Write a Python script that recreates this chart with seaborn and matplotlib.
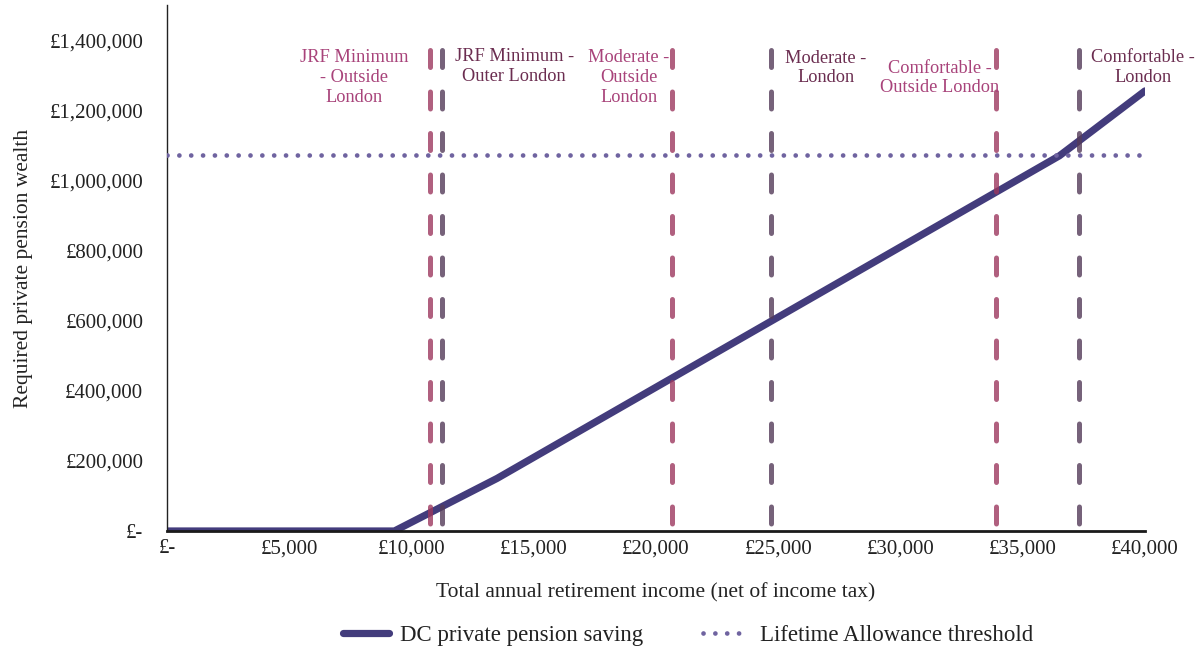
import matplotlib
matplotlib.use("Agg")
import matplotlib.pyplot as plt
import seaborn as sns
import pandas as pd
from matplotlib.lines import Line2D

# ---- data ----
income = [0, 9300, 13500, 36500, 40000]
wealth = [0, 0, 150000, 1070000, 1255000]
lta_threshold = 1073100

marker_labels = ["JRF Minimum\n- Outside\nLondon", "JRF Minimum -\nOuter London",
                 "Moderate -\nOutside\nLondon", "Moderate -\nLondon",
                 "Comfortable -\nOutside London", "Comfortable -\nLondon"]
marker_income = [10750, 11250, 20650, 24700, 33900, 37300]
marker_london = [False, True, False, True, False, True]

xticks = [0, 5000, 10000, 15000, 20000, 25000, 30000, 35000, 40000]
yticks = [0, 200000, 400000, 600000, 800000, 1000000, 1200000, 1400000]

sns.set_style("white")
plt.rcParams['font.family'] = ['Liberation Serif', 'DejaVu Serif']

fig = plt.figure(figsize=(11.96, 6.52), dpi=100)
ax = fig.add_axes([167/1196, (652-531)/652, (1145-167)/1196, 526/652])

PINK_LINE = "#9c385f"
DARK_LINE = "#543b59"
PINK_TXT = "#a8437a"
DARK_TXT = "#6b2d50"
MAIN = "#433c7c"
DOT = "#6f63a0"

df = pd.DataFrame({"income": income, "wealth": wealth})

sns.lineplot(data=df, x="income", y="wealth", ax=ax, color=MAIN, lw=5.2,
             solid_capstyle="round", zorder=2)

for xv, lon in zip(marker_income, marker_london):
    ax.plot([xv, xv], [1372000, -10000], color=DARK_LINE if lon else PINK_LINE,
            alpha=0.8, lw=3.6, linestyle=(0, (3.4, 4.9)), dash_capstyle="round",
            zorder=3)

ax.axhline(lta_threshold, color=DOT, lw=3.4, linestyle=(0, (0.01, 2.5)),
           dash_capstyle="round", zorder=4)

# annotation texts (center positions in data coords)
label_pos = [(7650, 1293000), (14200, 1325000), (18900, 1293000),
             (26950, 1320000), (31600, 1292000), (39900, 1322000)]
for (tx, ty), lab, lon in zip(label_pos, marker_labels, marker_london):
    ax.text(tx, ty, lab, ha="center", va="center", fontsize=13.2,
            color=DARK_TXT if lon else PINK_TXT, linespacing=1.2, zorder=5)

ax.set_xlim(0, 40000)
ax.set_ylim(0, 1500000)
ax.set_xticks(xticks)
ax.set_xticklabels(["£-" if v == 0 else f"£{v:,}" for v in xticks], fontsize=15)
ax.set_yticks(yticks)
ax.set_yticklabels(["£-" if v == 0 else f"£{v:,}" for v in yticks], fontsize=15)
ax.tick_params(axis="y", length=0, pad=17, colors="#222222")
ax.tick_params(axis="x", length=0, pad=6, colors="#222222")

for s in ["top", "right"]:
    ax.spines[s].set_visible(False)
ax.spines["left"].set_color("#222222")
ax.spines["left"].set_linewidth(1.0)
ax.spines["bottom"].set_color("#1a1a1a")
ax.spines["bottom"].set_linewidth(2.0)

ax.set_xlabel("Total annual retirement income (net of income tax)", fontsize=15.5,
              color="#222222", labelpad=18)
ax.set_ylabel("Required private pension wealth", fontsize=15.5, color="#222222",
              labelpad=12)

handles = [Line2D([], [], color=MAIN, lw=5.2, solid_capstyle="round"),
           Line2D([], [], color=DOT, lw=3.4, linestyle=(0, (0.01, 2.5)),
                  dash_capstyle="round")]
fig.legend(handles, ["DC private pension saving", "Lifetime Allowance threshold"],
           loc="center", bbox_to_anchor=(688/1196, 1 - 635/652), ncol=2,
           frameon=False, fontsize=16.5, handlelength=2.0, handletextpad=0.5,
           columnspacing=2.6, labelcolor="#222222")

fig.savefig("out.png", dpi=100)
